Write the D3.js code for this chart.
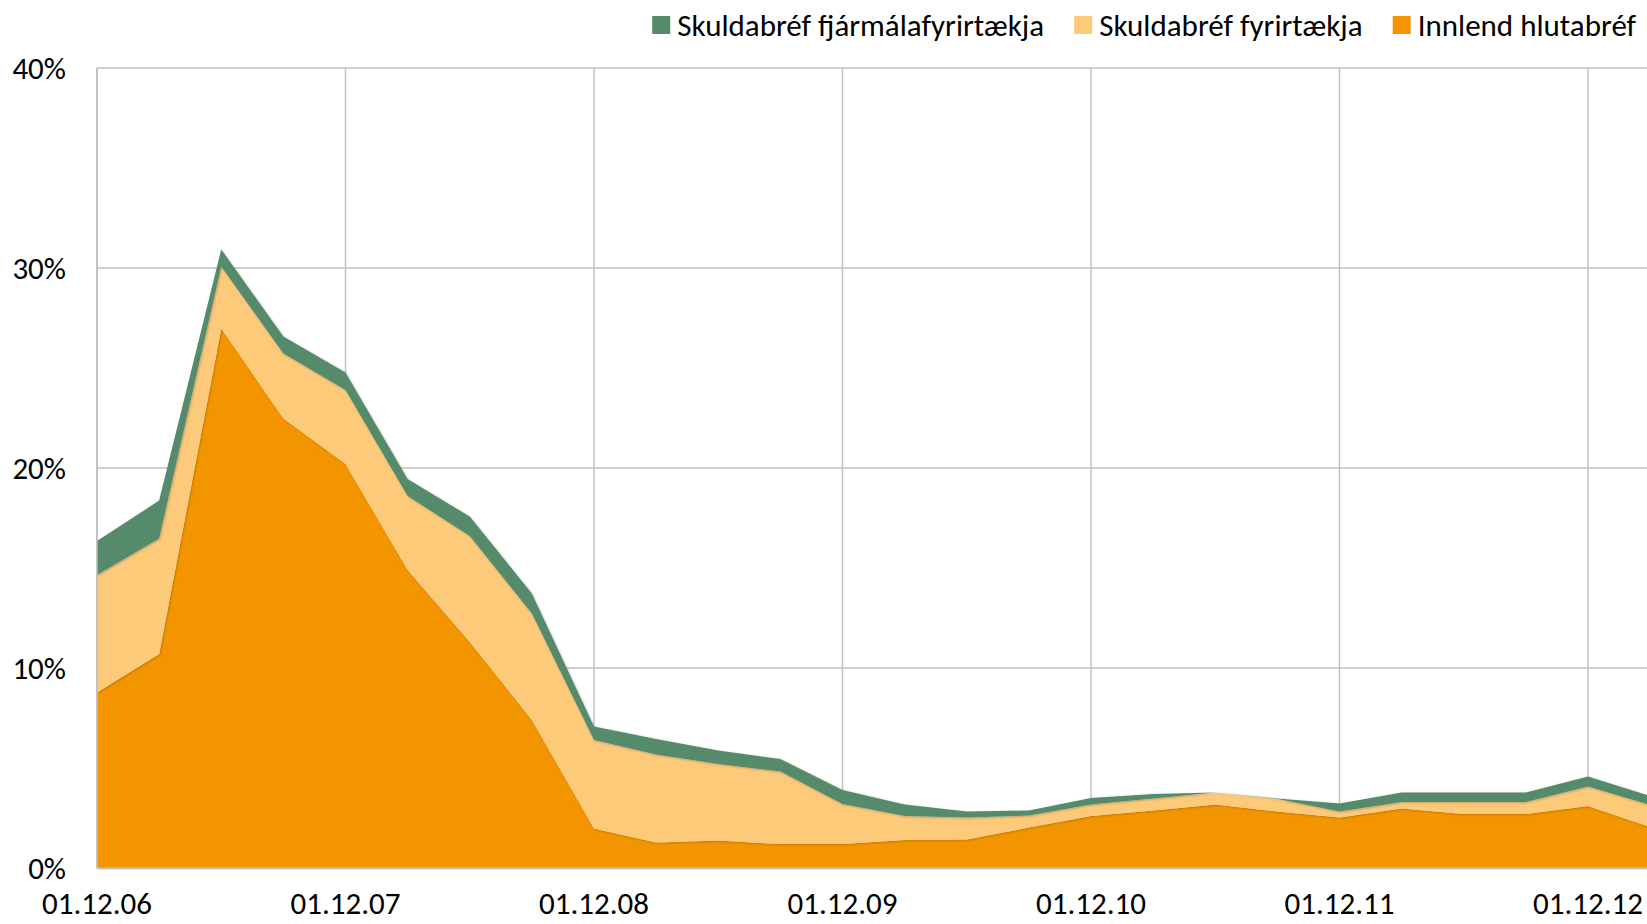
<!DOCTYPE html>
<html>
<head>
<meta charset="utf-8">
<script src="https://cdn.jsdelivr.net/npm/d3@7"></script>
<style>
  body { margin: 0; background: #fff; overflow: hidden; }
  svg { display: block; font-family: Carlito, Lato, "Noto Sans", sans-serif; }
</style>
</head>
<body>
<div id="chart-area"></div>
<script>
// quarterly dates, 01.12.06 .. 01.03.13
var dates = ["01.12.06","01.03.07","01.06.07","01.09.07","01.12.07","01.03.08","01.06.08","01.09.08",
  "01.12.08","01.03.09","01.06.09","01.09.09","01.12.09","01.03.10","01.06.10","01.09.10",
  "01.12.10","01.03.11","01.06.11","01.09.11","01.12.11","01.03.12","01.06.12","01.09.12",
  "01.12.12","01.03.13"];

var seriesNames = ["Innlend hlutabréf", "Skuldabréf fyrirtækja", "Skuldabréf fjármálafyrirtækja"];

// % values
var innlendHlutabref = [8.78, 10.7, 26.98, 22.48, 20.2, 14.9, 11.3, 7.4, 1.98, 1.28, 1.37, 1.2, 1.2,
  1.4, 1.43, 2.02, 2.6, 2.88, 3.18, 2.82, 2.52, 2.98, 2.7, 2.7, 3.1, 2.05];
var skuldabrefFyrirtaekja = [5.87, 5.78, 3.09, 3.25, 3.7, 3.7, 5.3, 5.33, 4.42, 4.4, 3.83, 3.62, 2.0,
  1.2, 1.09, 0.6, 0.58, 0.6, 0.59, 0.63, 0.3, 0.32, 0.6, 0.6, 0.97, 1.1];
var skuldabrefFjarmala = [1.7, 1.89, 0.86, 0.84, 0.87, 0.85, 0.97, 1.0, 0.67, 0.77, 0.67, 0.63, 0.7,
  0.58, 0.3, 0.26, 0.32, 0.22, 0.01, 0.02, 0.41, 0.48, 0.48, 0.48, 0.5, 0.45];

var yTicks = [0, 10, 20, 30, 40];
var colors = ["#f39500", "#fdca7a", "#558b6a"];

var svgWidth = 1647, svgHeight = 924;
var margin = { top: 68, left: 97, bottom: 56 };
var quarter = 62.125;
var fontSize = 31;

var svg = d3.select("#chart-area").append("svg")
  .attr("width", svgWidth)
  .attr("height", svgHeight);

var x = d3.scalePoint()
  .domain(dates)
  .range([margin.left, margin.left + quarter * (dates.length - 1)]);

var y = d3.scaleLinear()
  .domain([0, 40])
  .range([svgHeight - margin.bottom, margin.top]);

var rows = dates.map(function(d, i) {
  var r = { date: d };
  r[seriesNames[0]] = innlendHlutabref[i];
  r[seriesNames[1]] = skuldabrefFyrirtaekja[i];
  r[seriesNames[2]] = skuldabrefFjarmala[i];
  return r;
});

var stacked = d3.stack().keys(seriesNames)(rows);

// soft shadow like the original
var defs = svg.append("defs");
var f = defs.append("filter").attr("id", "shadow")
  .attr("x", "-5%").attr("y", "-5%").attr("width", "110%").attr("height", "110%");
f.append("feDropShadow")
  .attr("dx", 0.8).attr("dy", 0.8)
  .attr("stdDeviation", 1.2)
  .attr("flood-color", "#000")
  .attr("flood-opacity", 0.25);

var yearTicks = dates.filter(function(d) { return d.slice(0, 5) == "01.12"; });

// gridlines
svg.append("g")
  .selectAll("line")
  .data(yTicks)
  .join("line")
    .attr("x1", margin.left)
    .attr("x2", svgWidth)
    .attr("y1", d => y(d))
    .attr("y2", d => y(d))
    .attr("stroke", "#c0c0c0")
    .attr("stroke-width", 1.5);

svg.append("g")
  .selectAll("line")
  .data(yearTicks)
  .join("line")
    .attr("x1", d => x(d))
    .attr("x2", d => x(d))
    .attr("y1", y(0))
    .attr("y2", y(40))
    .attr("stroke", "#c0c0c0")
    .attr("stroke-width", 1.5);

var area = d3.area()
  .x(d => x(d.data.date))
  .y0(d => y(d[0]))
  .y1(d => y(d[1]));

svg.append("g")
  .selectAll("path")
  .data(stacked)
  .join("path")
    .attr("d", area)
    .attr("fill", (d, i) => colors[i])
    .attr("filter", "url(#shadow)");

// axis lines
svg.append("line")
  .attr("x1", margin.left).attr("x2", svgWidth)
  .attr("y1", y(0)).attr("y2", y(0))
  .attr("stroke", "#bfbfbf").attr("stroke-width", 1.5);
svg.append("line")
  .attr("x1", margin.left).attr("x2", margin.left)
  .attr("y1", y(0)).attr("y2", y(40))
  .attr("stroke", "#bfbfbf").attr("stroke-width", 1.5);

// y labels
svg.append("g")
  .selectAll("text")
  .data(yTicks)
  .join("text")
    .attr("x", 66)
    .attr("y", d => y(d))
    .attr("dy", "0.35em")
    .attr("text-anchor", "end")
    .attr("font-size", fontSize)
    .attr("fill", "#000")
    .text(d => d + "%");

// x labels
svg.append("g")
  .selectAll("text")
  .data(yearTicks)
  .join("text")
    .attr("x", d => x(d))
    .attr("y", 914)
    .attr("text-anchor", "middle")
    .attr("font-size", fontSize)
    .attr("fill", "#000")
    .text(d => d);

// legend, laid out from the right edge
var legendOrder = [2, 1, 0];
var legend = svg.append("g");
var right = 1636;
legendOrder.slice().reverse().forEach(function(i) {
  var t = legend.append("text")
    .attr("y", 36)
    .attr("font-size", fontSize)
    .attr("fill", "#000")
    .text(seriesNames[i]);
  var w = t.node().getComputedTextLength();
  t.attr("x", right - w);
  legend.append("rect")
    .attr("x", right - w - 25)
    .attr("y", 16)
    .attr("width", 18)
    .attr("height", 18)
    .attr("fill", colors[i]);
  right = right - w - 25 - 30;
});
</script>
</body>
</html>
